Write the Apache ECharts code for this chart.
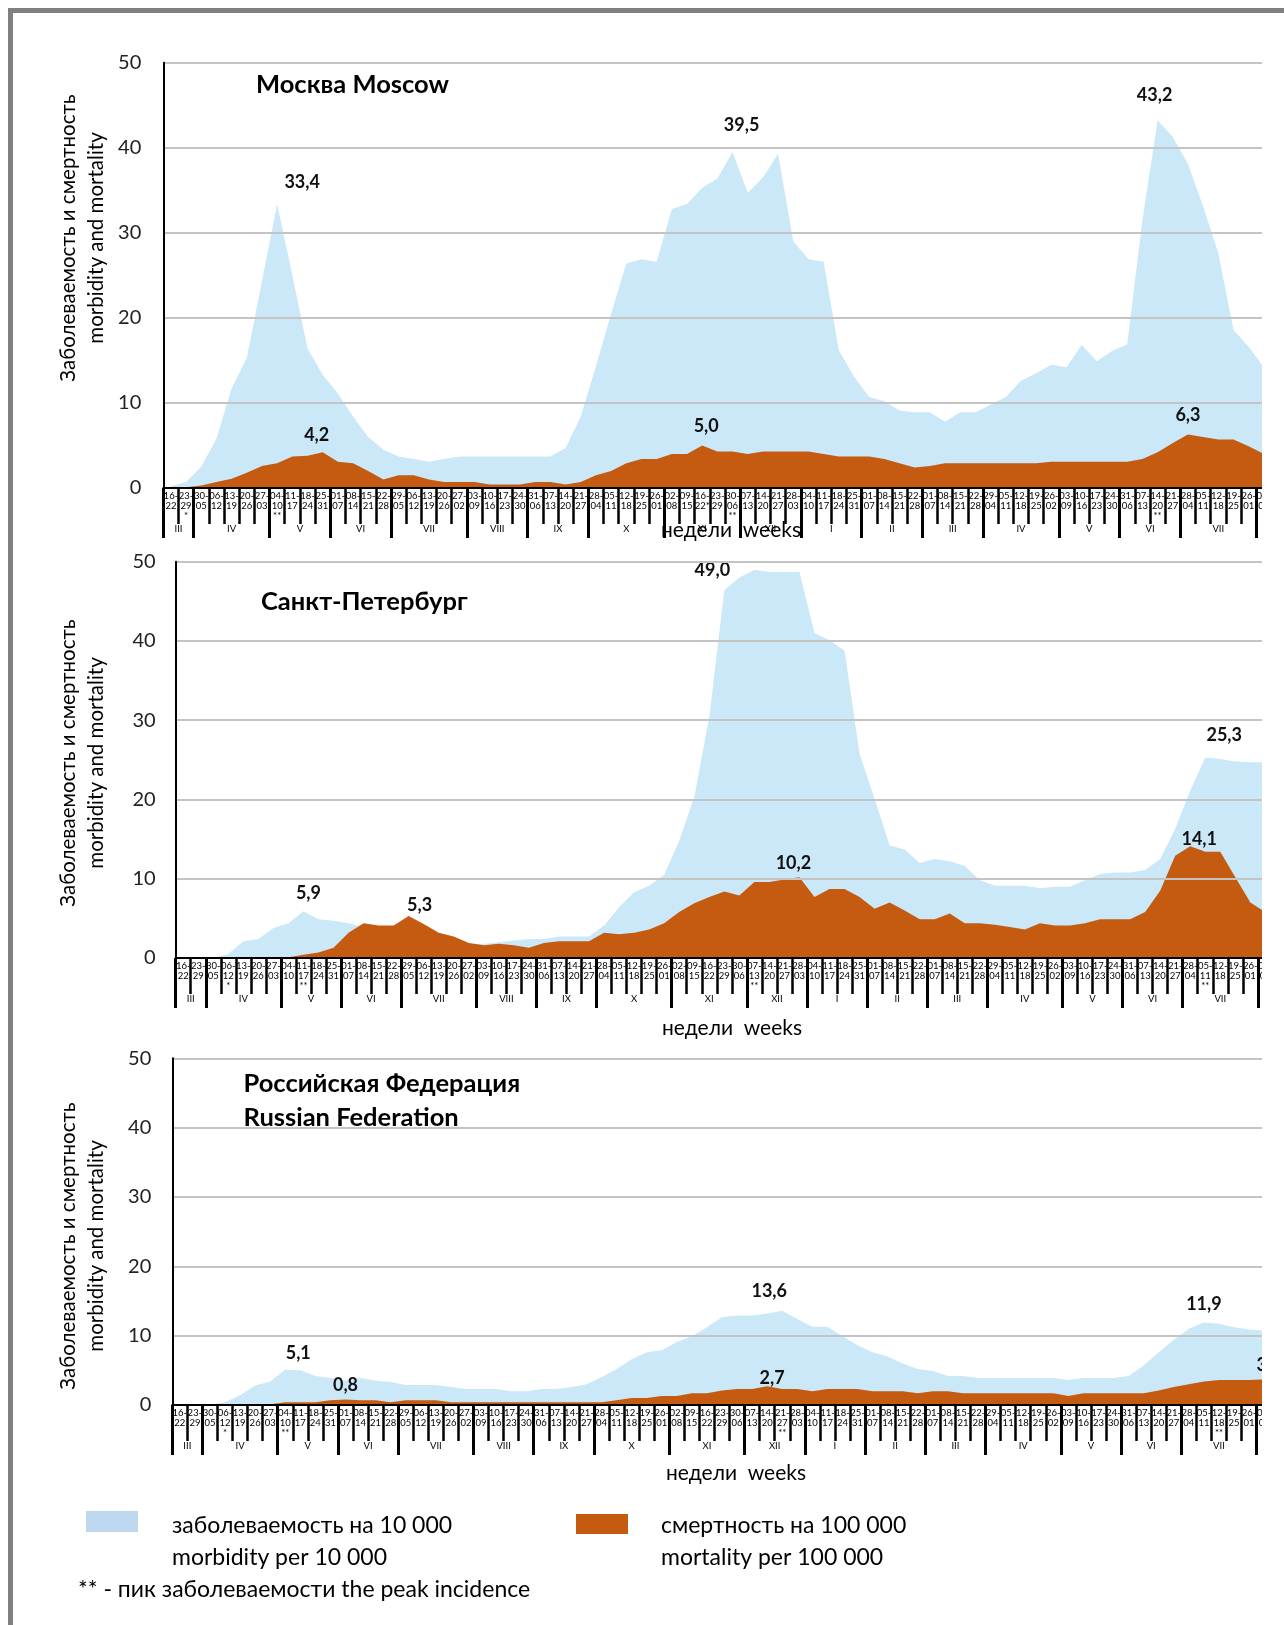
<!DOCTYPE html>
<html>
<head>
<meta charset="utf-8">
<script src="https://cdn.jsdelivr.net/npm/echarts@6/dist/echarts.min.js"></script>
<style>
html, body { margin: 0; padding: 0; background: #fff; width: 1284px; height: 1625px; overflow: hidden; }
#frame { position: absolute; left: 8px; top: 8px; width: 1276px; height: 1617px; box-sizing: border-box;
         border-left: 5px solid #808080; border-top: 5px solid #808080; }
#chart { position: absolute; left: 0; top: 0; width: 1262px; height: 1625px; }
</style>
</head>
<body>
<div id="frame"></div>
<div id="chart"></div>
<script>
// Weekly periods, 16 March 2020 – 8 August 2021
const weeks = ['16-22','23-29','30-05','06-12','13-19','20-26','27-03','04-10','11-17','18-24',
  '25-31','01-07','08-14','15-21','22-28','29-05','06-12','13-19','20-26','27-02',
  '03-09','10-16','17-23','24-30','31-06','07-13','14-20','21-27','28-04','05-11',
  '12-18','19-25','26-01','02-08','09-15','16-22','23-29','30-06','07-13','14-20',
  '21-27','28-03','04-10','11-17','18-24','25-31','01-07','08-14','15-21','22-28',
  '01-07','08-14','15-21','22-28','29-04','05-11','12-18','19-25','26-02','03-09',
  '10-16','17-23','24-30','31-06','07-13','14-20','21-27','28-04','05-11','12-18',
  '19-25','26-01','02-08'];

// Months: first week index of each month group, and its Roman numeral
const monthNames = ['III','IV','V','VI','VII','VIII','IX','X','XI','XII','I','II','III','IV','V','VI','VII'];
const monthStarts = [0, 2, 7, 11, 15, 20, 24, 28, 33, 38, 42, 46, 50, 54, 59, 63, 67, 72];

// Moscow: morbidity per 10 000, mortality per 100 000
const moscowMorbidity = [0.2, 0.7, 2.5, 5.8, 11.7, 15.3, 24.3, 33.4, 25.0, 16.4,
  13.3, 11.1, 8.4, 6.0, 4.5, 3.7, 3.4, 3.1, 3.4, 3.7,
  3.7, 3.7, 3.7, 3.7, 3.7, 3.7, 4.7, 8.4, 14.3, 20.5,
  26.4, 26.9, 26.6, 32.8, 33.4, 35.3, 36.4, 39.5, 34.7, 36.5,
  39.3, 29.0, 26.9, 26.6, 16.2, 13.1, 10.7, 10.2, 9.1, 8.9,
  8.9, 7.8, 8.9, 8.9, 9.8, 10.7, 12.6, 13.5, 14.5, 14.2,
  16.8, 14.9, 16.1, 16.9, 31.5, 43.2, 41.3, 38.1, 33.1, 27.6,
  18.6, 16.6, 14.2];
const moscowMortality = [0.0, 0.1, 0.3, 0.7, 1.1, 1.8, 2.6, 2.9, 3.7, 3.8,
  4.2, 3.1, 2.9, 2.0, 1.0, 1.5, 1.5, 1.0, 0.7, 0.7,
  0.7, 0.4, 0.4, 0.4, 0.7, 0.7, 0.4, 0.7, 1.5, 2.0,
  2.9, 3.4, 3.4, 4.0, 4.0, 5.0, 4.3, 4.3, 4.0, 4.3,
  4.3, 4.3, 4.3, 4.0, 3.7, 3.7, 3.7, 3.4, 2.9, 2.4,
  2.6, 2.9, 2.9, 2.9, 2.9, 2.9, 2.9, 2.9, 3.1, 3.1,
  3.1, 3.1, 3.1, 3.1, 3.4, 4.2, 5.3, 6.3, 6.0, 5.7,
  5.7, 4.9, 4.0];

// Saint Petersburg
const spbMorbidity = [0.0, 0.0, 0.0, 0.5, 2.1, 2.4, 3.8, 4.4, 5.9, 4.9,
  4.7, 4.4, 3.9, 3.5, 3.2, 2.9, 2.7, 2.5, 2.2, 1.8,
  1.8, 2.0, 2.2, 2.4, 2.4, 2.7, 2.7, 2.7, 4.1, 6.4,
  8.3, 9.1, 10.5, 14.8, 20.3, 30.4, 46.4, 48.0, 49.0, 48.7,
  48.7, 48.7, 41.0, 40.1, 38.8, 25.8, 20.1, 14.2, 13.7, 12.0,
  12.5, 12.2, 11.6, 9.8, 9.1, 9.1, 9.1, 8.8, 9.0, 9.0,
  9.8, 10.6, 10.8, 10.8, 11.1, 12.5, 16.3, 21.1, 25.3, 25.1,
  24.8, 24.7, 24.7];
const spbMortality = [0.0, 0.0, 0.0, 0.0, 0.0, 0.0, 0.0, 0.1, 0.4, 0.7,
  1.3, 3.2, 4.4, 4.1, 4.1, 5.3, 4.3, 3.2, 2.7, 1.9,
  1.6, 1.8, 1.6, 1.3, 1.9, 2.1, 2.1, 2.1, 3.2, 3.0,
  3.2, 3.6, 4.4, 5.8, 6.9, 7.7, 8.4, 7.9, 9.6, 9.6,
  9.9, 10.2, 7.7, 8.7, 8.7, 7.7, 6.2, 7.0, 6.0, 4.9,
  4.9, 5.6, 4.4, 4.4, 4.2, 3.9, 3.6, 4.4, 4.1, 4.1,
  4.4, 4.9, 4.9, 4.9, 5.8, 8.5, 12.9, 14.1, 13.4, 13.4,
  10.2, 7.0, 5.8];

// Russian Federation
const rfMorbidity = [0.0, 0.0, 0.05, 0.4, 1.4, 2.8, 3.4, 5.1, 5.0, 4.2,
  3.9, 3.5, 3.9, 3.5, 3.3, 2.9, 2.9, 2.9, 2.6, 2.3,
  2.3, 2.3, 2.0, 2.0, 2.3, 2.3, 2.6, 3.0, 4.0, 5.2,
  6.6, 7.6, 7.9, 9.1, 9.9, 11.2, 12.7, 12.9, 12.9, 13.2,
  13.6, 12.4, 11.3, 11.3, 9.9, 8.6, 7.6, 7.0, 6.0, 5.2,
  4.9, 4.2, 4.2, 3.9, 3.9, 3.9, 3.9, 3.9, 3.9, 3.6,
  3.9, 3.9, 3.9, 4.2, 5.7, 7.6, 9.4, 11.0, 11.9, 11.7,
  11.2, 10.9, 10.7];
const rfMortality = [0.0, 0.0, 0.0, 0.0, 0.0, 0.1, 0.1, 0.4, 0.4, 0.4,
  0.7, 0.8, 0.7, 0.7, 0.4, 0.7, 0.7, 0.7, 0.4, 0.4,
  0.4, 0.4, 0.4, 0.4, 0.4, 0.4, 0.4, 0.4, 0.4, 0.7,
  1.0, 1.0, 1.3, 1.3, 1.7, 1.7, 2.1, 2.3, 2.3, 2.7,
  2.3, 2.3, 2.0, 2.3, 2.3, 2.3, 2.0, 2.0, 2.0, 1.7,
  2.0, 2.0, 1.7, 1.7, 1.7, 1.7, 1.7, 1.7, 1.7, 1.3,
  1.7, 1.7, 1.7, 1.7, 1.7, 2.1, 2.6, 3.0, 3.4, 3.6,
  3.6, 3.6, 3.7];

// Marks under the week labels (* and ** = peak incidence)
const moscowMarks = { 1: '*', 7: '**', 37: '**', 65: '**' };
const moscowInlineMarks = { 35: '*' };
const spbMarks = { 3: '*', 8: '**', 38: '**', 68: '**' };
const rfMarks = { 3: '*', 7: '**', 40: '**', 69: '**' };

const FONT = 'Lato, "Noto Sans", sans-serif';
const BLUE = '#cbe8f8';
const ORANGE = '#c55a11';

const fmt = v => v.toFixed(1).replace('.', ',');

const monthTicks = monthStarts.slice();
const monthCenters = monthNames.map((_, i) => (monthStarts[i] + monthStarts[i + 1]) / 2);
const monthByCenter = new Map(monthCenters.map((c, i) => [c, monthNames[i]]));

function weekFormatter(marks, inline) {
  return (v, i) => {
    const [a, b] = v.split('-');
    return a + '-\n' + b + (inline[i] || '') + '\n' + (marks[i] || '');
  };
}

function withLabels(values, spots) {
  return values.map((v, i) => spots[i]
    ? { value: v, label: { show: true, offset: spots[i] } }
    : v);
}

// panel layout
const panels = [
  { grid: { left: 163.3, top: 62.7, width: 73 * 15.18, height: 425.3 },
    morb: moscowMorbidity, mort: moscowMortality, marks: moscowMarks, inline: moscowInlineMarks,
    morbLabels: { 7: [25, -8], 37: [9, -13], 65: [-3, -11.5] },
    mortLabels: { 10: [-6, -3.5], 35: [4, -5], 67: [0, -5.5] },
    yMargin: 22 },
  { grid: { left: 175.7, top: 561.7, width: 73 * 15.03, height: 396.3 },
    morb: spbMorbidity, mort: spbMortality, marks: spbMarks, inline: {},
    morbLabels: { 8: [5, -4.5], 38: [-42, 14.5], 68: [19, -8] },
    mortLabels: { 15: [11, 3], 41: [-6, 0.5], 67: [9, 6.7] },
    yMargin: 20 },
  { grid: { left: 172.3, top: 1058.3, width: 73 * 15.06, height: 346.7 },
    morb: rfMorbidity, mort: rfMortality, marks: rfMarks, inline: {},
    morbLabels: { 7: [13, -2.5], 40: [-13, -6], 68: [0, -4] },
    mortLabels: { 11: [0, 0], 39: [5, 5.5], 72: [5, -0.5] },
    yMargin: 21 }
];

const grid = [], xAxis = [], yAxis = [], series = [];
panels.forEach((p, g) => {
  grid.push(Object.assign({ outerBoundsMode: 'none', containLabel: false }, p.grid));
  xAxis.push({
    type: 'category', gridIndex: g, data: weeks, boundaryGap: true, position: 'bottom',
    axisLine: { show: true, lineStyle: { color: '#000', width: 2 } },
    axisTick: { show: true, interval: 0, alignWithLabel: false, length: 36,
                lineStyle: { color: '#000', width: 2.5 } },
    axisLabel: { interval: 0, hideOverlap: false, margin: 3, fontSize: 9.5, lineHeight: 10,
                 color: '#000', fontFamily: FONT, formatter: weekFormatter(p.marks, p.inline) },
    splitLine: { show: false }, z: 5
  });
  xAxis.push({
    type: 'value', gridIndex: g, min: 0, max: 73, position: 'bottom',
    axisLine: { show: false }, splitLine: { show: false },
    axisTick: { show: true, customValues: monthTicks, length: 50,
                lineStyle: { color: '#000', width: 3 } },
    axisLabel: { show: true, customValues: monthCenters, margin: 36, fontSize: 9.5,
                 color: '#000', fontFamily: FONT, formatter: v => monthByCenter.get(v) || '' },
    z: 5
  });
  yAxis.push({
    type: 'value', gridIndex: g, min: 0, max: 50, interval: 10,
    axisLine: { show: true, lineStyle: { color: '#000', width: 2 } },
    axisTick: { show: false },
    axisLabel: { margin: p.yMargin, fontSize: 20, color: '#222', fontFamily: FONT },
    splitLine: { show: true, lineStyle: { color: '#c4c4c4', width: 2 } },
    z: 4
  });
  const common = {
    type: 'line', xAxisIndex: g * 2, yAxisIndex: g, symbol: 'circle', symbolSize: 0,
    showSymbol: true, showAllSymbol: true, lineStyle: { width: 0 }, silent: true,
    label: { show: false, position: 'top', distance: 5, fontSize: 18, fontWeight: 'bold',
             color: '#111', fontFamily: FONT, formatter: q => fmt(q.value) }
  };
  series.push(Object.assign({}, common, {
    name: 'morbidity', data: withLabels(p.morb, p.morbLabels),
    itemStyle: { color: BLUE }, areaStyle: { color: BLUE, opacity: 1 }, z: 2
  }));
  series.push(Object.assign({}, common, {
    name: 'mortality', data: withLabels(p.mort, p.mortLabels),
    itemStyle: { color: ORANGE }, areaStyle: { color: ORANGE, opacity: 1 }, z: 3
  }));
});

const yTitle = 'Заболеваемость и смертность\nmorbidity and mortality';
const txt = (x, y, text, extra) => ({
  type: 'text', x, y, silent: true,
  style: Object.assign({ text, fontFamily: FONT, fill: '#000', fontSize: 23 }, extra || {})
});
const rotated = (x, y) => ({
  type: 'text', x, y, rotation: Math.PI / 2, silent: true,
  style: { text: yTitle, fontFamily: FONT, fill: '#000', fontSize: 20.5, lineHeight: 28,
           align: 'center', verticalAlign: 'middle' }
});
const title = { fontSize: 25.5, fontWeight: 'bold', verticalAlign: 'middle' };

const graphic = [
  txt(256, 85, 'Москва Moscow', title),
  txt(261, 602, 'Санкт-Петербург', title),
  txt(243.5, 1084, 'Российская Федерация', title),
  txt(243.5, 1118, 'Russian Federation', title),
  rotated(82, 238), rotated(82, 763), rotated(82, 1246),
  txt(731, 530, 'недели  weeks', { fontSize: 21, align: 'center', verticalAlign: 'middle' }),
  txt(732, 1028, 'недели  weeks', { fontSize: 21, align: 'center', verticalAlign: 'middle' }),
  txt(736, 1473, 'недели  weeks', { fontSize: 21, align: 'center', verticalAlign: 'middle' }),
  { type: 'rect', shape: { x: 86, y: 1511, width: 52, height: 21 }, style: { fill: '#bdd7ee' }, silent: true },
  { type: 'rect', shape: { x: 576, y: 1514, width: 52, height: 20 }, style: { fill: ORANGE }, silent: true },
  txt(172, 1526, 'заболеваемость на 10 000', { verticalAlign: 'middle' }),
  txt(172, 1558, 'morbidity per 10 000', { verticalAlign: 'middle' }),
  txt(661, 1526, 'смертность на 100 000', { verticalAlign: 'middle' }),
  txt(661, 1558, 'mortality per 100 000', { verticalAlign: 'middle' }),
  txt(78, 1590, '** - пик заболеваемости the peak incidence', { verticalAlign: 'middle' })
];

const chart = echarts.init(document.getElementById('chart'), null, { renderer: 'canvas' });
chart.setOption({
  animation: false,
  backgroundColor: 'transparent',
  grid, xAxis, yAxis, series, graphic
});
</script>
</body>
</html>
